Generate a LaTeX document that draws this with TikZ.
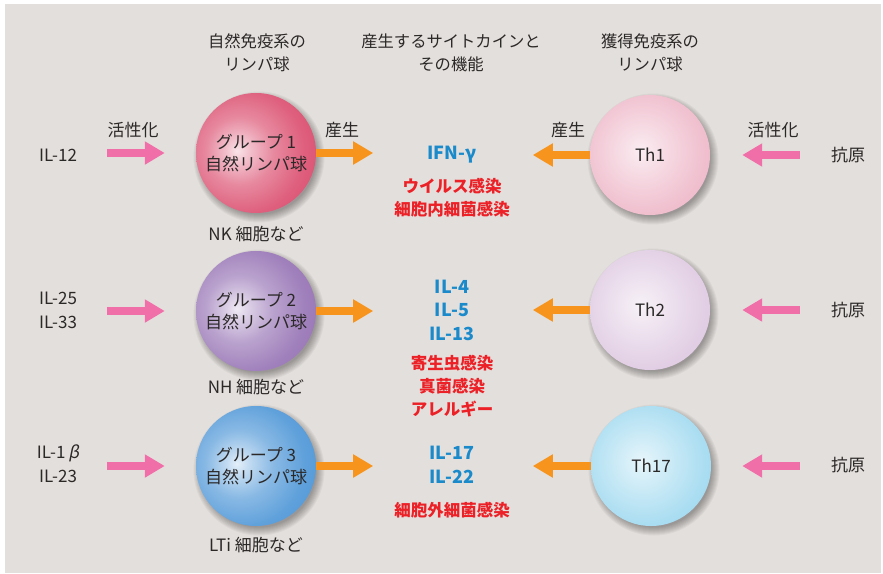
\documentclass[tikz,border=0pt]{standalone}
\usepackage{fontspec}
\setmainfont{Noto Sans CJK JP}
\newfontfamily\slfont[FakeSlant=0.2]{Noto Sans CJK JP}
\usetikzlibrary{arrows.meta}
\definecolor{bg}{HTML}{E3DFDC}
\definecolor{txt}{HTML}{2B2828}
\definecolor{pinkc}{HTML}{F06FA9}
\definecolor{orc}{HTML}{F7941D}
\definecolor{bluet}{HTML}{1A8ACB}
\definecolor{redt}{HTML}{EC2127}
\definecolor{gA}{HTML}{DA4A6C}
\definecolor{gB}{HTML}{9470B3}
\definecolor{gC}{HTML}{4A94D6}
\definecolor{tA}{HTML}{E285A2}
\definecolor{tB}{HTML}{C7A2CC}
\definecolor{tC}{HTML}{5CBEE4}
\pgfdeclareradialshading{shgA}{\pgfpoint{-8bp}{1bp}}{color(0bp)=(gA!15!white); color(5bp)=(gA!35!white); color(14bp)=(gA!65!white); color(26bp)=(gA!88!white); color(38bp)=(gA); color(50bp)=(gA!80!black); color(100bp)=(gA!80!black)}
\pgfdeclareradialshading{shgB}{\pgfpoint{-8bp}{1bp}}{color(0bp)=(gB!15!white); color(5bp)=(gB!35!white); color(14bp)=(gB!65!white); color(26bp)=(gB!88!white); color(38bp)=(gB); color(50bp)=(gB!80!black); color(100bp)=(gB!80!black)}
\pgfdeclareradialshading{shgC}{\pgfpoint{-8bp}{1bp}}{color(0bp)=(gC!15!white); color(5bp)=(gC!35!white); color(14bp)=(gC!65!white); color(26bp)=(gC!88!white); color(38bp)=(gC); color(50bp)=(gC!80!black); color(100bp)=(gC!80!black)}
\pgfdeclareradialshading{shtA}{\pgfpoint{-4bp}{2bp}}{color(0bp)=(tA!15!white); color(10bp)=(tA!30!white); color(24bp)=(tA!50!white); color(38bp)=(tA!66!white); color(46bp)=(tA!88!white); color(50bp)=(tA); color(100bp)=(tA)}
\pgfdeclareradialshading{shtB}{\pgfpoint{-4bp}{2bp}}{color(0bp)=(tB!15!white); color(10bp)=(tB!30!white); color(24bp)=(tB!50!white); color(38bp)=(tB!66!white); color(46bp)=(tB!88!white); color(50bp)=(tB); color(100bp)=(tB)}
\pgfdeclareradialshading{shtC}{\pgfpoint{-4bp}{2bp}}{color(0bp)=(tC!15!white); color(10bp)=(tC!30!white); color(24bp)=(tC!50!white); color(38bp)=(tC!66!white); color(46bp)=(tC!88!white); color(50bp)=(tC); color(100bp)=(tC)}
\tikzset{
  lbl/.style={text=txt, font=\fontsize{17}{22}\selectfont, align=center, inner sep=0pt},
  hdr/.style={text=txt, font=\fontsize{16.3}{23}\selectfont, align=center, inner sep=0pt},
  cyto/.style={text=bluet, font=\bfseries\fontsize{18}{23.5}\selectfont, align=center, inner sep=0pt},
  func/.style={text=redt, font=\bfseries\fontsize{16.5}{23}\selectfont, align=center, inner sep=0pt},
  ball/.style={circle, minimum size=120pt, inner sep=0pt, text=txt, align=center, font=\fontsize{17}{22}\selectfont},
  pinkarr/.style={draw=pinkc, line width=8pt, -{Triangle[length=20pt,width=22pt]}},
  orarr/.style={draw=orc, line width=8pt, -{Triangle[length=20pt,width=22pt]}},
}
\newcommand{\ballshadow}[2]{%
  \foreach \k in {1,...,9} {\fill[black, opacity=0.04] (#1+3,#2+4) circle (56.5+\k);}}
\begin{document}
\begin{tikzpicture}[x=1pt,y=-1pt]
\useasboundingbox (0,0) rectangle (883,573);
\fill[white] (0,0) rectangle (883,573);
\fill[bg] (5,4) rectangle (881,573);

% headers
\node[hdr] (h1) at (257,53) {自然免疫系の\\リンパ球};
\node[hdr] (h2) at (451,53) {産生するサイトカインと\\その機能};
\node[hdr] (h3) at (650,53) {獲得免疫系の\\リンパ球};

% shadows
\ballshadow{256}{153}
\ballshadow{256}{311}
\ballshadow{256}{466}
\ballshadow{650}{155}
\ballshadow{650}{310}
\ballshadow{651}{466}

% circles
\node[ball, shading=shgA] (g1) at (256,153) {グループ 1\\自然リンパ球};
\node[ball, shading=shgB] (g2) at (256,311) {グループ 2\\自然リンパ球};
\node[ball, shading=shgC] (g3) at (256,466) {グループ 3\\自然リンパ球};
\node[ball, shading=shtA] (t1) at (650,155) {Th1};
\node[ball, shading=shtB] (t2) at (650,310) {Th2};
\node[ball, shading=shtC] (t3) at (651,466) {Th17};

% cell type labels
\node[lbl] (nk) at (256,234) {NK 細胞など};
\node[lbl] (nh) at (256,387) {NH 細胞など};
\node[lbl] (lti) at (256,545) {LTi 細胞など};

% left inputs
\node[lbl] (il12) at (58,155) {IL-12};
\node[lbl, font=\fontsize{17}{24}\selectfont] (il25) at (58,310) {IL-25\\IL-33};
\node[lbl, font=\fontsize{17}{24}\selectfont] (il1b) at (58,464) {IL-1\,{\slfont β}\\IL-23};

% antigens
\node[lbl] (ag1) at (848,155) {抗原};
\node[lbl] (ag2) at (848,310) {抗原};
\node[lbl] (ag3) at (848,465) {抗原};

% arrow labels
\node[lbl] (act1) at (133,130) {活性化};
\node[lbl] (prod1) at (342,130) {産生};
\node[lbl] (prod2) at (568,130) {産生};
\node[lbl] (act2) at (773,130) {活性化};

% cytokines
\node[cyto] (ifn) at (452,155) {IFN-γ};
\node[func] (f1) at (452,198) {ウイルス感染\\細胞内細菌感染};
\node[cyto] (c2) at (452,310) {IL-4\\IL-5\\IL-13};
\node[func] (f2) at (452,386) {寄生虫感染\\真菌感染\\アレルギー};
\node[cyto] (c3) at (452,465) {IL-17\\IL-22};
\node[func] (f3) at (452,510) {細胞外細菌感染};

% pink arrows (left)
\draw[pinkarr] ([xshift=-89pt]g1.west) -- ([xshift=-31pt]g1.west);
\draw[pinkarr] ([xshift=-89pt]g2.west) -- ([xshift=-31pt]g2.west);
\draw[pinkarr] ([xshift=-89pt]g3.west) -- ([xshift=-31pt]g3.west);
% orange arrows (left)
\draw[orarr] (g1.east) -- ([xshift=57pt]g1.east);
\draw[orarr] (g2.east) -- ([xshift=57pt]g2.east);
\draw[orarr] (g3.east) -- ([xshift=57pt]g3.east);
% orange arrows (right)
\draw[orarr] (t1.west) -- ([xshift=-57pt]t1.west);
\draw[orarr] (t2.west) -- ([xshift=-57pt]t2.west);
\draw[orarr] (t3.west) -- ([xshift=-58pt]t3.west);
% pink arrows (right)
\draw[pinkarr] ([xshift=90pt]t1.east) -- ([xshift=32pt]t1.east);
\draw[pinkarr] ([xshift=90pt]t2.east) -- ([xshift=32pt]t2.east);
\draw[pinkarr] ([xshift=89pt]t3.east) -- ([xshift=31pt]t3.east);
\end{tikzpicture}
\end{document}
